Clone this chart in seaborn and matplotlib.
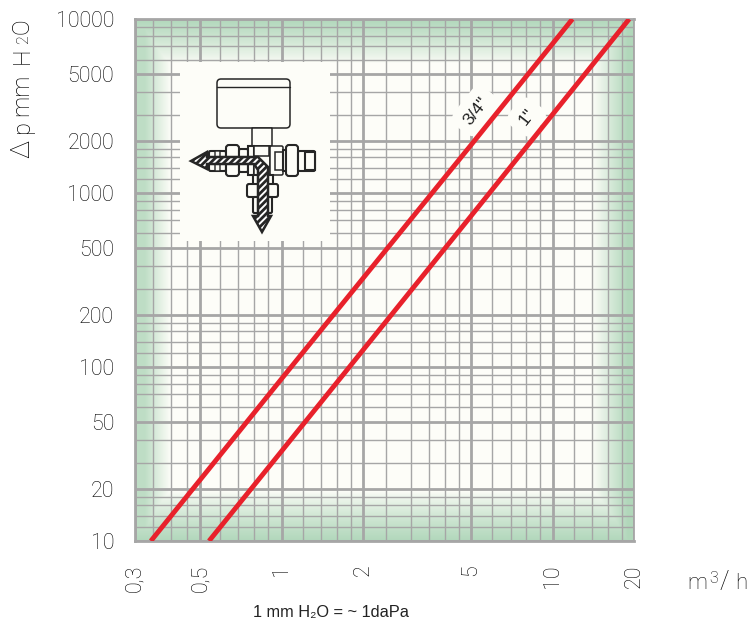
import numpy as np
import pandas as pd
import matplotlib
matplotlib.use("Agg")
import matplotlib.pyplot as plt
import seaborn as sns
from matplotlib.patches import Rectangle, FancyBboxPatch, Polygon
from matplotlib.ticker import FixedLocator, FixedFormatter, NullFormatter

# ---- data ----
flow_34 = [0.328, 1.0, 5.0, 11.85]
dp_34 = [10, 86, 1888, 10000]
flow_1 = [0.538, 1.0, 5.0, 19.2]
dp_1 = [10, 33, 738, 10000]
series_names = ['3/4"', '1"']

x_major = [0.2866, 0.5, 1, 2, 5, 10, 20]
x_major_labels = ["0,3", "0,5", "1", "2", "5", "10", "20"]
x_minor = [0.335, 0.39, 0.445, 0.59, 0.69, 0.79, 0.89, 1.2, 1.4, 1.6, 1.8,
           2.42, 3, 3.5, 4, 4.5, 6, 7, 8, 9, 12, 14, 16, 18]
y_major = [10, 20, 48.3, 100, 200, 483, 1000, 2000, 4830, 10000]
y_major_labels = ["10", "20", "50", "100", "200", "500", "1000", "2000", "5000", "10000"]
y_minor = [12, 14, 16, 18, 28, 38, 59, 70, 80, 90,
           120, 140, 160, 180, 280, 380, 590, 700, 800, 900,
           1200, 1400, 1600, 1800, 2800, 3800, 5800, 7000, 8000, 9000]

GRAY = "#a6a6a6"
CREAM = "#fdfdf8"
GREEN = "#b1d7bb"
RED = "#e8212b"
INK = "#000000"
W, H = 747, 619
L, R, T, B = 135, 634, 19, 541

sns.set_style("white")
plt.rcParams["font.family"] = ["Roboto", "DejaVu Sans"]

fig = plt.figure(figsize=(W / 100, H / 100), dpi=100)
rect = [L / W, 1 - B / H, (R - L) / W, (B - T) / H]

# gradient paper behind the chart
bg = fig.add_axes(rect, zorder=0)
bg.axis("off")
px, py = np.meshgrid(np.arange(R - L) + 0.5, np.arange(B - T) + 0.5)
fade = np.maximum.reduce([
    np.clip((36 - px) / 26, 0, 1) * 0.82,
    np.clip((42 - (R - L - px)) / 36, 0, 1),
    np.clip(1 - py / 44, 0, 1) ** 0.8,
    np.clip(1 - (B - T - py) / 50, 0, 1) ** 0.8,
])
c0 = np.array(matplotlib.colors.to_rgb(CREAM))
c1 = np.array(matplotlib.colors.to_rgb(GREEN))
bg.imshow(c0 + fade[..., None] * (c1 - c0), aspect="auto", interpolation="bilinear")

# chart
ax = fig.add_axes(rect, zorder=1)
ax.patch.set_alpha(0)
df = pd.concat([
    pd.DataFrame({"flow": flow_34, "dp": dp_34, "size": series_names[0]}),
    pd.DataFrame({"flow": flow_1, "dp": dp_1, "size": series_names[1]}),
])
sns.lineplot(data=df, x="flow", y="dp", hue="size", estimator=None, sort=False,
             palette=[RED, RED], lw=3.5, legend=False, ax=ax, zorder=4,
             solid_capstyle="butt")
ax.set_xscale("log")
ax.set_yscale("log")
ax.set_xlim(x_major[0], 20)
ax.set_ylim(10, 10000)
ax.set_xlabel("")
ax.set_ylabel("")

ax.xaxis.set_major_locator(FixedLocator(x_major))
ax.xaxis.set_major_formatter(FixedFormatter(x_major_labels))
ax.xaxis.set_minor_locator(FixedLocator(x_minor))
ax.xaxis.set_minor_formatter(NullFormatter())
ax.yaxis.set_major_locator(FixedLocator(y_major))
ax.yaxis.set_major_formatter(FixedFormatter(y_major_labels))
ax.yaxis.set_minor_locator(FixedLocator(y_minor))
ax.yaxis.set_minor_formatter(NullFormatter())

ax.set_axisbelow(True)
ax.grid(which="major", color=GRAY, lw=2.0)
ax.grid(which="minor", color=GRAY, lw=1.0)
ax.tick_params(which="major", axis="both", length=8, width=2.0, color=GRAY,
               labelcolor=INK, labelsize=15.5, pad=7)
ax.tick_params(which="minor", length=0)
ax.tick_params(axis="x", labelrotation=90, pad=9)
for lab in ax.get_xticklabels() + ax.get_yticklabels():
    lab.set_fontweight("light")
for s in ax.spines.values():
    s.set_visible(True)
    s.set_color(GRAY)
    s.set_linewidth(2.0)
ax.spines["right"].set_linewidth(1.3)

blob = dict(boxstyle="round,pad=0.5,rounding_size=0.6", fc=CREAM, ec="none")
ax.text(5.2, 2958, series_names[0], rotation=52, ha="center", va="center",
        fontsize=12.5, color="#222222", family=["Liberation Sans"], bbox=blob, zorder=3)
ax.text(8.02, 2735, series_names[1], rotation=52, ha="center", va="center",
        fontsize=12.5, color="#222222", family=["Liberation Sans"], bbox=blob, zorder=3)

# overlay in pixel units: picture of the valve and free-standing labels
ov = fig.add_axes([0, 0, 1, 1], zorder=2)
ov.set_xlim(0, W)
ov.set_ylim(H, 0)
ov.axis("off")
ov.add_patch(Rectangle((180, 62), 150, 179, fc=CREAM, ec="none", zorder=1))

K = "#262626"
def box(x0, y0, x1, y1, lw=1.5, r=1.5, fc=CREAM, z=3):
    ov.add_patch(FancyBboxPatch((x0, y0), x1 - x0, y1 - y0,
                                boxstyle=f"round,pad=0,rounding_size={r}",
                                fc=fc, ec=K, lw=lw, zorder=z))

box(217, 79, 290, 128, r=4, lw=1.1)
ov.plot([217, 290], [87, 87], color=K, lw=1.0, zorder=4)
box(252, 128, 272, 146, r=0.5, lw=1.1)
box(209, 151, 226, 171)
box(215, 151, 220, 171, r=0, lw=1.0)
box(226, 145, 239, 176, r=3)
box(239, 149, 248, 172)
box(248, 146, 254, 175, r=0)
box(254, 146, 270, 175, r=0, lw=1.1)
box(270, 146, 283, 175, lw=1.1)
box(275, 152, 283, 170, r=0, lw=1.1)
box(283, 150, 286, 171, r=0)
box(286, 145, 298, 176, r=3)
box(298, 151, 315, 171)
box(305, 152, 315, 170, r=0)
box(253, 175, 273, 185, r=0)
box(247, 184, 278, 197, r=2)
box(253, 197, 272, 213)
box(254, 146, 269, 156, r=0, lw=1.1)

plt.rcParams["hatch.linewidth"] = 2.0
arrow_l = Polygon([(191, 161), (207, 152), (207, 157), (258, 157), (268, 167),
                   (268, 216), (271, 216), (262, 232), (253, 216), (258, 216),
                   (258, 170), (254, 164), (207, 164), (207, 169)], closed=True,
                  fc="white", ec=K, lw=1.8, hatch="/////", zorder=6)
ov.add_patch(arrow_l)

# y title, set piece by piece for its wide spacing
ytitle = [("Δ", 149, 19), ("p", 127, 17), ("mm", 95, 17), ("H", 56, 17), ("2", 40, 11.5), ("O", 26, 17)]
for s, yy, fs in ytitle:
    ov.text(22 if s != "2" else 24, yy, s, rotation=90, ha="center", va="center",
            fontsize=fs, color=INK, fontweight="light")

ov.text(687, 589, "m", ha="left", va="baseline", fontsize=16, color=INK, fontweight="light")
ov.text(709, 583, "3", ha="left", va="baseline", fontsize=11.5, color=INK, fontweight="light")
ov.text(719, 589, "/", ha="left", va="baseline", fontsize=18, color=INK, fontweight="light")
ov.text(735, 589, "h", ha="left", va="baseline", fontsize=16, color=INK, fontweight="light")
ov.text(253, 617, "1 mm H₂O = ~ 1daPa", ha="left", va="baseline", fontsize=11.8,
        color="#222222", family=["Liberation Sans", "DejaVu Sans"])

fig.savefig("out.png", dpi=100, facecolor="white")
